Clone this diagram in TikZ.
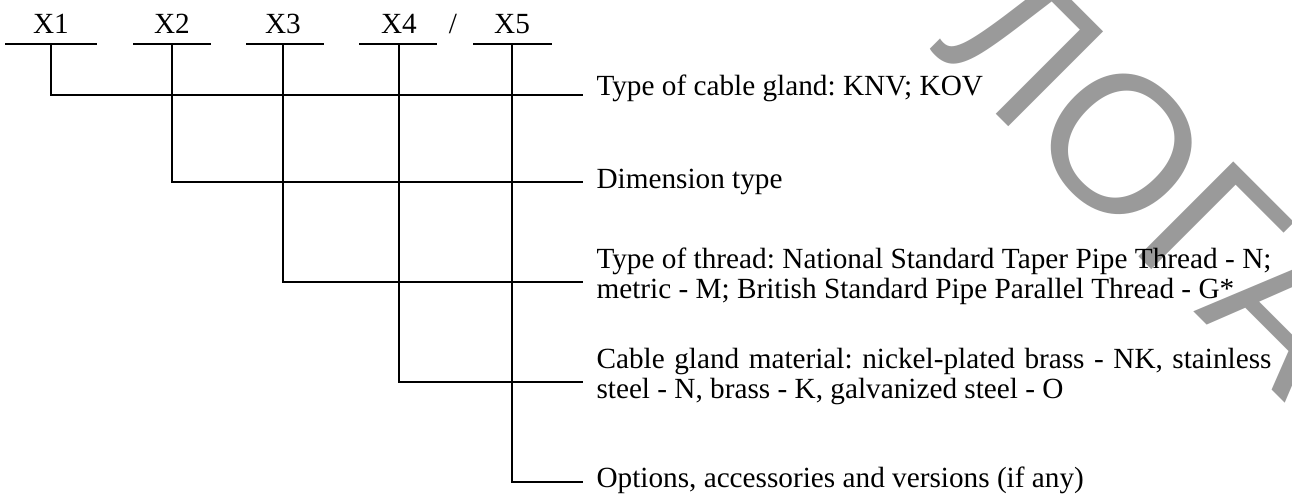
\documentclass[tikz,border=0pt]{standalone}
\usepackage{fontspec}
\setmainfont{Liberation Serif}
\newfontfamily\wmfont{Liberation Sans}
\definecolor{wmgray}{HTML}{9A9A9A}
\frenchspacing
\begin{document}
\begin{tikzpicture}[x=0.4pt,y=-0.4pt,
  lbl/.style={inner sep=0pt, anchor=base, font=\fontsize{11.7}{12}\selectfont},
  desc/.style={inner sep=0pt, anchor=base west, font=\fontsize{11.7}{12}\selectfont\frenchspacing,
               text width=270pt, align=justify},
  wire/.style={line width=0.8pt, line cap=rect},
  watermark/.style={rotate=-45, text=wmgray, inner sep=0pt,
               font=\wmfont\fontsize{78}{78}\selectfont}]
\useasboundingbox (0,0) rectangle (1292,493);
% watermark (behind everything)
\begin{scope}
  \clip (0,0) rectangle (1292,493);
  \node[watermark] (wm) at (1155,178) {ЛОГА};
\end{scope}
% code labels
\node[lbl] (x1) at (51,33) {X1};
\node[lbl] (x2) at (172,33) {X2};
\node[lbl] (x3) at (283,33) {X3};
\node[lbl] (x4) at (399,33) {X4};
\node[lbl] (sl) at (453,33) {/};
\node[lbl] (x5) at (512,33) {X5};
% underlines
\draw[wire] (6,44) -- (96,44);
\draw[wire] (134,44) -- (210,44);
\draw[wire] (247,44) -- (323,44);
\draw[wire] (360,44) -- (436,44);
\draw[wire] (474,44) -- (551,44);
% stem tops and line ends
\coordinate (t1) at (51,44);  \coordinate (e1) at (582,95);
\coordinate (t2) at (172,44); \coordinate (e2) at (582,182);
\coordinate (t3) at (283,44); \coordinate (e3) at (582,282);
\coordinate (t4) at (399,44); \coordinate (e4) at (582,382);
\coordinate (t5) at (512,44); \coordinate (e5) at (582,482);
% descriptions
\node[desc] (d1) at (596,95) {Type of cable gland: KNV; KOV};
\node[desc] (d2) at (596,188) {Dimension type};
\node[desc] (d3) at (596,268) {Type of thread: National Standard Taper Pipe Thread - N;\linebreak metric - M; British Standard Pipe Parallel Thread - G*};
\node[desc] (d4) at (596,368) {Cable gland material: nickel-plated brass - NK, stainless\linebreak steel - N, brass - K, galvanized steel - O};
\node[desc] (d5) at (596,487) {Options, accessories and versions (if any)};
% connectors
\draw[wire] (t1) |- (e1);
\draw[wire] (t2) |- (e2);
\draw[wire] (t3) |- (e3);
\draw[wire] (t4) |- (e4);
\draw[wire] (t5) |- (e5);
\end{tikzpicture}
\end{document}
